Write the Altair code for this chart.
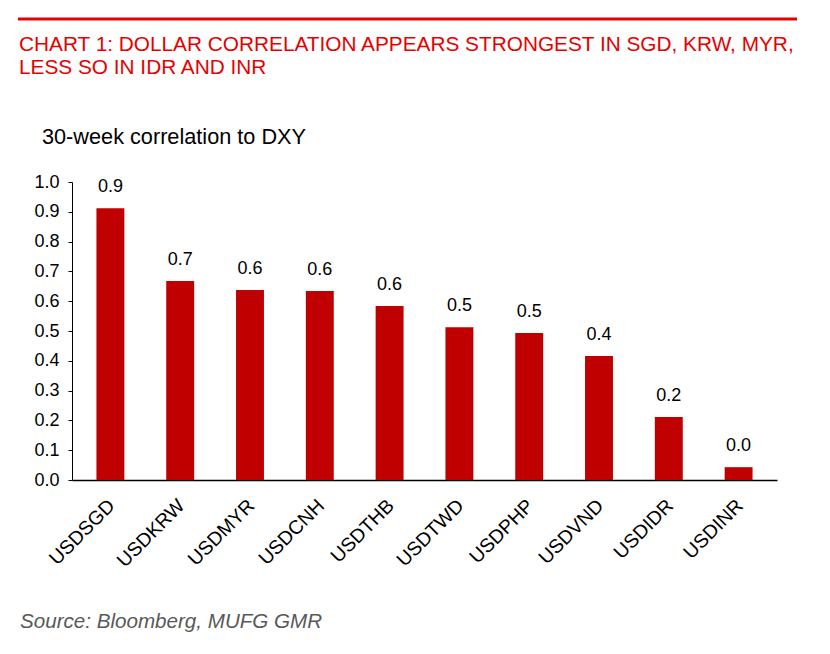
import altair as alt
import pandas as pd

pairs = ["USDSGD", "USDKRW", "USDMYR", "USDCNH", "USDTHB",
         "USDTWD", "USDPHP", "USDVND", "USDIDR", "USDINR"]
corr = [0.912, 0.668, 0.638, 0.634, 0.584, 0.513, 0.493, 0.416, 0.211, 0.043]
yticks = [0.0, 0.1, 0.2, 0.3, 0.4, 0.5, 0.6, 0.7, 0.8, 0.9, 1.0]

title_lines = ["CHART 1: DOLLAR CORRELATION APPEARS STRONGEST IN SGD, KRW, MYR,",
               "LESS SO IN IDR AND INR"]
subtitle = "30-week correlation to DXY"
source = "Source: Bloomberg, MUFG GMR"

FONT = "Liberation Sans"
BAR = "#C00000"
RED = "#E60000"

df = pd.DataFrame({"pair": pairs, "corr": corr})

xscale = alt.Scale(paddingInner=0.6, paddingOuter=0.35)
yscale = alt.Scale(domain=[0, 1], nice=False)

xenc = alt.X("pair:N", sort=pairs, scale=xscale,
             axis=alt.Axis(title=None, labelAngle=-45, labelFontSize=19.5,
                           labelFont=FONT, labelColor="#000", ticks=False,
                           domainColor="#000", domainWidth=1.5, labelPadding=16,
                           labelOffset=-5))
yenc = alt.Y("corr:Q", scale=yscale,
             axis=alt.Axis(title=None, values=yticks, labelOverlap=False,
                           format=".1f", grid=False, labelFontSize=18,
                           labelFont=FONT, labelColor="#000", tickSize=4,
                           tickColor="#000", domainColor="#000",
                           labelPadding=9))

base = alt.Chart(df).encode(x=xenc, y=yenc)
bars = base.mark_bar(color=BAR)
labels = base.mark_text(dy=-21, baseline="middle", fontSize=18,
                        font=FONT, color="#000").encode(
    text=alt.Text("corr:Q", format=".1f"))

one = pd.DataFrame({"k": [0]})
rule = alt.Chart(one).mark_rule(color=RED, strokeWidth=3).encode(
    x=alt.value(-54), x2=alt.value(725), y=alt.value(-163))
t1 = alt.Chart(one).mark_text(align="left", baseline="alphabetic", fontSize=20.8,
                              font=FONT, color=RED, text=title_lines[0]).encode(
    x=alt.value(-53), y=alt.value(-131))
t2 = alt.Chart(one).mark_text(align="left", baseline="alphabetic", fontSize=20.8,
                              font=FONT, color=RED, text=title_lines[1]).encode(
    x=alt.value(-53), y=alt.value(-108))
st = alt.Chart(one).mark_text(align="left", baseline="alphabetic", fontSize=21.7,
                              font=FONT, color="#000", text=subtitle).encode(
    x=alt.value(-30), y=alt.value(-38))
src = alt.Chart(one).mark_text(align="left", baseline="alphabetic", fontSize=20.6,
                               font=FONT, fontStyle="italic", color="#595959",
                               text=source).encode(
    x=alt.value(-52), y=alt.value(446))

chart = alt.layer(bars, labels, rule, t1, t2, st, src).properties(
    width=705, height=298,
    background="white",
    autosize=alt.AutoSizeParams(type="none"),
    padding={"left": 64, "top": 174, "right": 45, "bottom": 160},
).configure_view(strokeWidth=0, stroke=None)

chart.save("out.html", embed_options={"renderer": "svg", "actions": False})
